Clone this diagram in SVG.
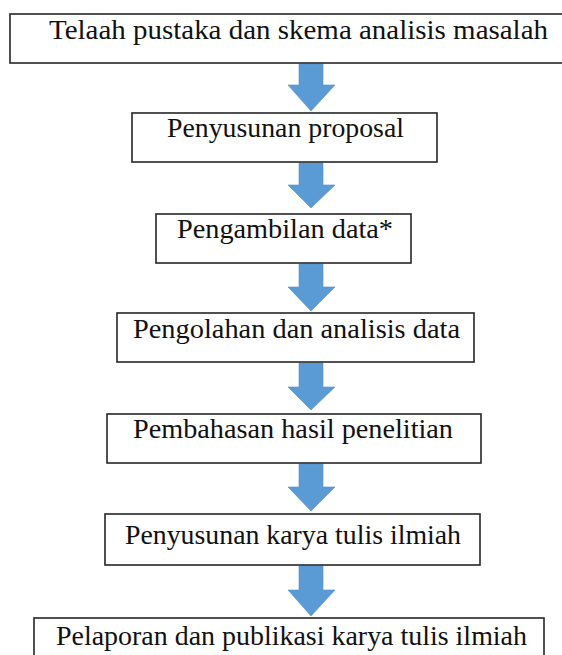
<svg xmlns="http://www.w3.org/2000/svg" width="562" height="655" viewBox="0 0 562 655">
<style>
.box{fill:#fff;stroke:#262626;stroke-width:1.6}
.lbl{font-family:'Liberation Serif','Times New Roman',Tinos,'DejaVu Serif',serif;font-size:27px;fill:#111}
.arr{fill:#5B9BD5;stroke:#5590C8;stroke-width:0.6}
</style>
<rect width="562" height="655" fill="#fff"/>
<g id="connectors">
<path class="arr" d="M299,64 H323 V85 H335 L311,111 L288,85 H299 Z"/>
<path class="arr" d="M299,163 H323 V185 H335 L311,208 L288,185 H299 Z"/>
<path class="arr" d="M299,264 H323 V287 H335 L311,311 L288,287 H299 Z"/>
<path class="arr" d="M299,363 H323 V387 H335 L311,410 L288,387 H299 Z"/>
<path class="arr" d="M299,464 H323 V487 H335 L311,511 L288,487 H299 Z"/>
<path class="arr" d="M299,566 H323 V590 H335 L311,616 L288,590 H299 Z"/>
</g>
<g id="n1"><rect class="box" x="10" y="14" width="570" height="49"/><text class="lbl" font-family="Liberation Serif, serif" x="49" y="39" textLength="499" lengthAdjust="spacingAndGlyphs">Telaah pustaka dan skema analisis masalah</text></g>
<g id="n2"><rect class="box" x="132" y="113" width="305" height="49"/><text class="lbl" x="167" y="137" textLength="237" lengthAdjust="spacingAndGlyphs">Penyusunan proposal</text></g>
<g id="n3"><rect class="box" x="156" y="214" width="255" height="49"/><text class="lbl" x="177" y="238" textLength="216" lengthAdjust="spacingAndGlyphs">Pengambilan data*</text></g>
<g id="n4"><rect class="box" x="117" y="313" width="357" height="49"/><text class="lbl" x="133" y="338" textLength="327" lengthAdjust="spacingAndGlyphs">Pengolahan dan analisis data</text></g>
<g id="n5"><rect class="box" x="107" y="414" width="374" height="49"/><text class="lbl" x="133" y="438" textLength="320" lengthAdjust="spacingAndGlyphs">Pembahasan hasil penelitian</text></g>
<g id="n6"><rect class="box" x="105" y="514" width="375" height="51"/><text class="lbl" x="125" y="544" textLength="336" lengthAdjust="spacingAndGlyphs">Penyusunan karya tulis ilmiah</text></g>
<g id="n7"><rect class="box" x="34" y="618" width="510" height="50"/><text class="lbl" x="56" y="645" textLength="471" lengthAdjust="spacingAndGlyphs">Pelaporan dan publikasi karya tulis ilmiah</text></g>
</svg>
